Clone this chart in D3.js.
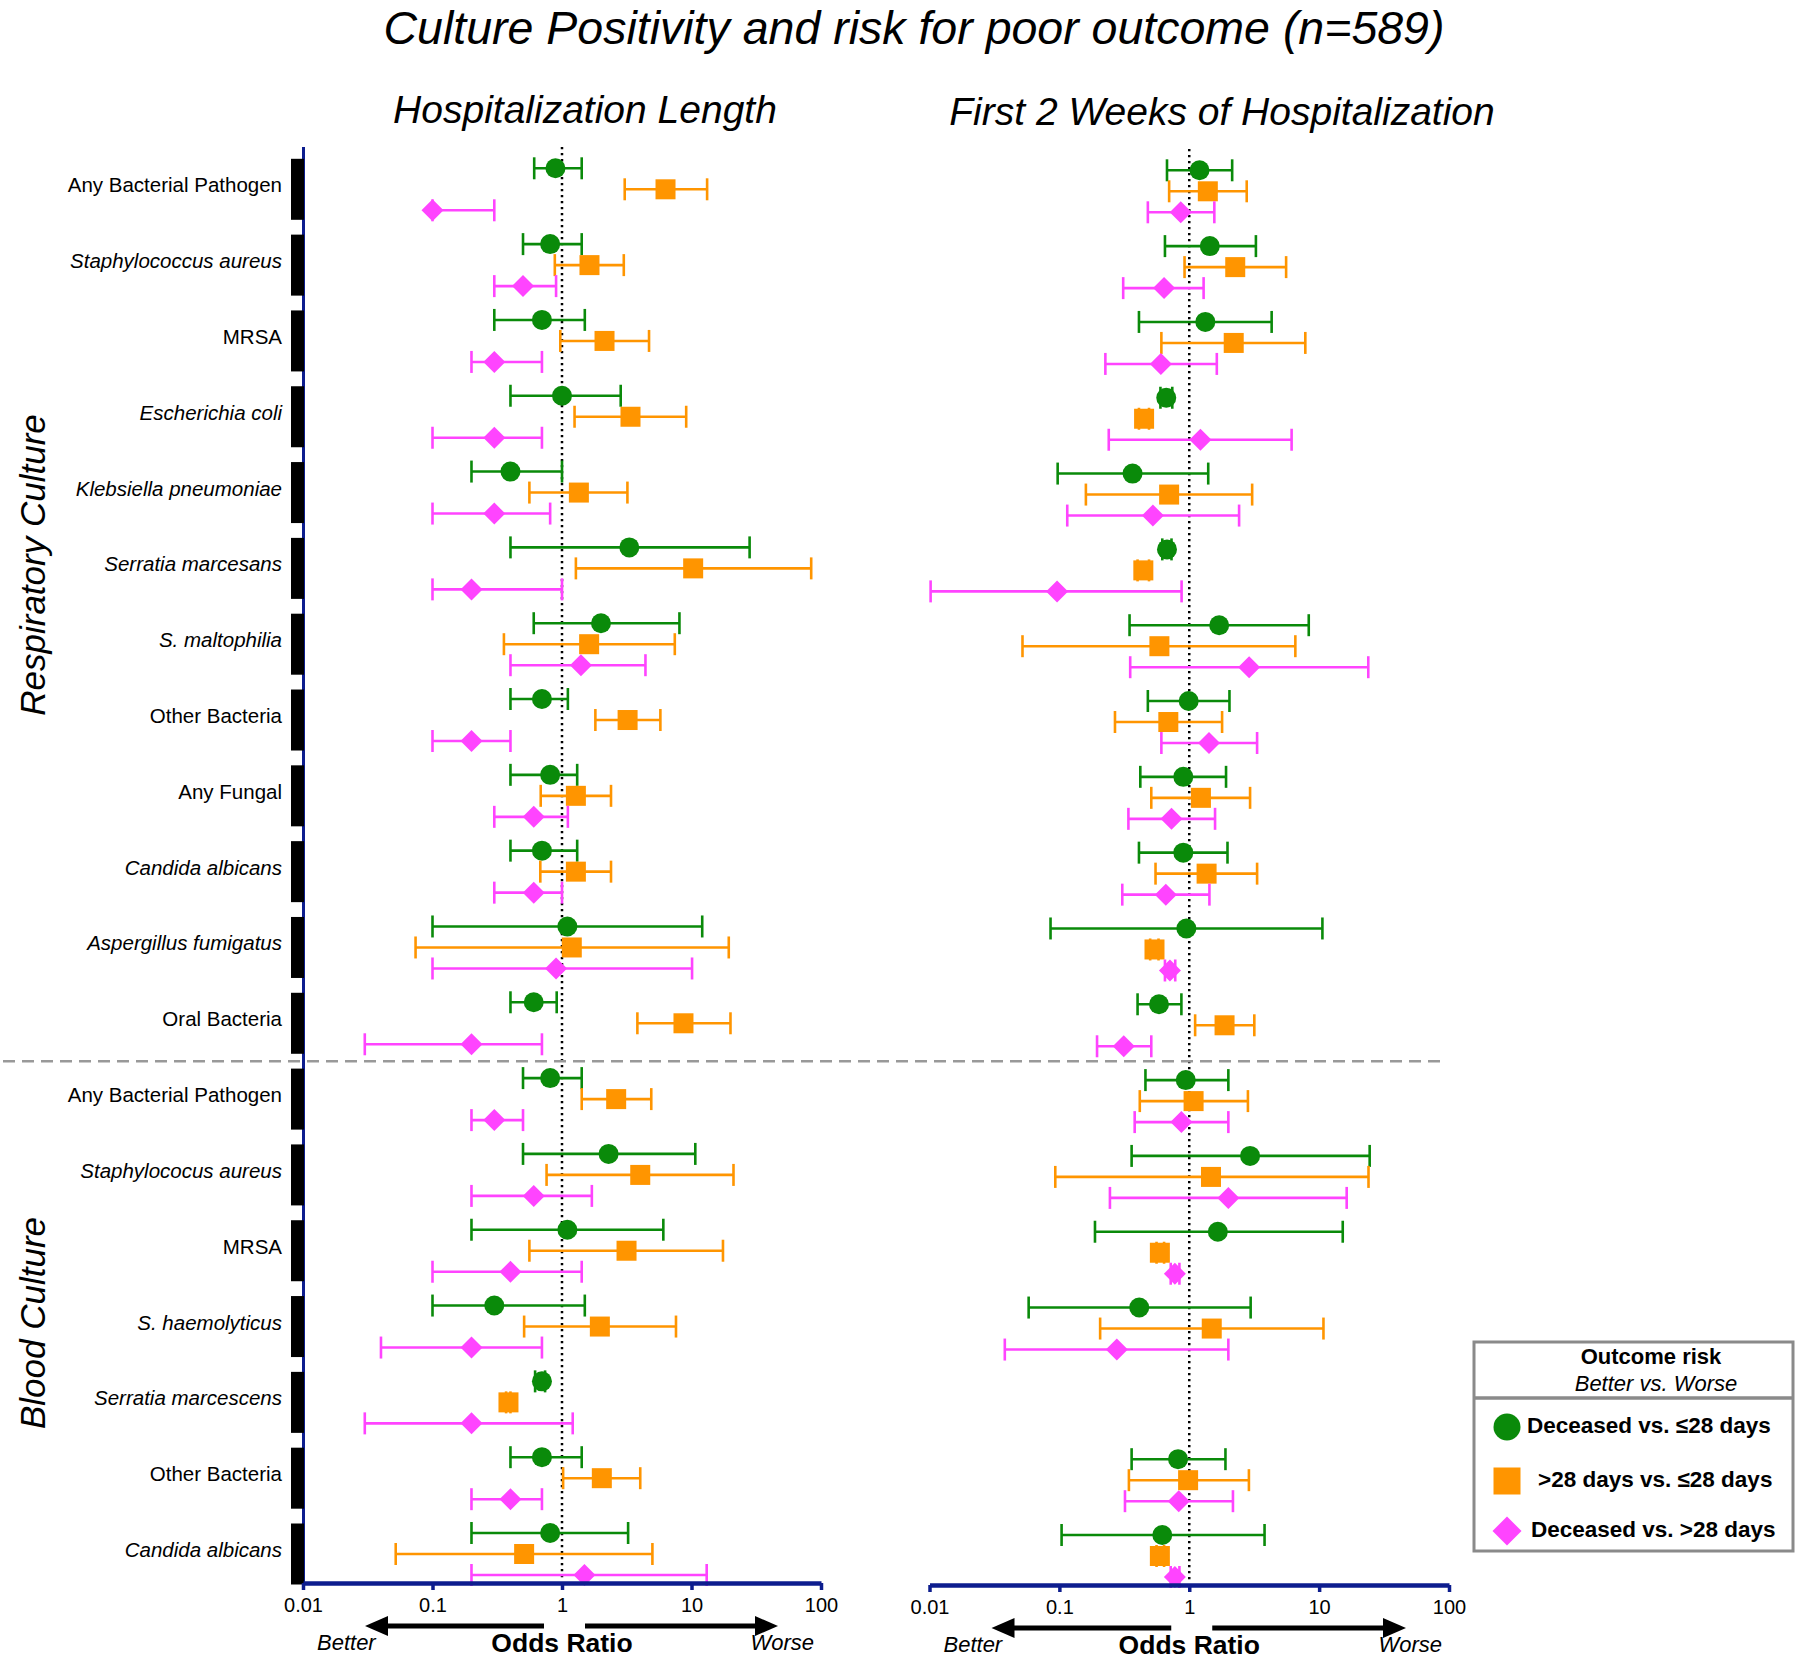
<!DOCTYPE html>
<html><head><meta charset="utf-8">
<script src="https://cdn.jsdelivr.net/npm/d3@7"></script>
<style>
body{margin:0;background:#fff}
svg{display:block}
text{font-family:"Liberation Sans",Arial,Helvetica,sans-serif;fill:#000}
</style>
</head><body>
<svg id="c" width="1800" height="1660"></svg>
<script>
// ---------------- DATA ----------------
const chartTitle = "Culture Positivity and risk for poor outcome (n=589)";
const panelTitles = ["Hospitalization Length", "First 2 Weeks of Hospitalization"];
const categories = [
  "Any Bacterial Pathogen", "Staphylococcus aureus", "MRSA", "Escherichia coli",
  "Klebsiella pneumoniae", "Serratia marcesans", "S. maltophilia", "Other Bacteria",
  "Any Fungal", "Candida albicans", "Aspergillus fumigatus", "Oral Bacteria",
  "Any Bacterial Pathogen", "Staphylococus aureus", "MRSA", "S. haemolyticus",
  "Serratia marcescens", "Other Bacteria", "Candida albicans"
];
const italicCategory = [false, true, false, true, true, true, true, false, false, true, true, false,
                        false, true, false, true, true, false, true];
const sectionNames = ["Respiratory Culture", "Blood Culture"];
const sectionSizes = [12, 7];
const seriesNames = ["Deceased vs. \u226428 days", ">28 days vs. \u226428 days", "Deceased vs. >28 days"];
const tickValues = [0.01, 0.1, 1, 10, 100];
const tickLabels = ["0.01", "0.1", "1", "10", "100"];
const axisTitle = "Odds Ratio";
const legendTitle = "Outcome risk";
const legendSubtitle = "Better vs. Worse";

// [odds ratio, lower CI, upper CI] per category
const hospDeceasedVsLe28 = [
  [0.89,0.61,1.42],[0.81,0.50,1.42],[0.70,0.30,1.50],[1.00,0.40,2.84],[0.40,0.20,1.00],
  [3.31,0.40,28.1],[2.00,0.605,8.07],[0.70,0.40,1.11],[0.81,0.40,1.31],[0.70,0.40,1.31],
  [1.10,0.10,12.1],[0.605,0.40,0.91],
  [0.81,0.50,1.42],[2.29,0.50,10.7],[1.10,0.20,6.06],[0.30,0.10,1.50],[0.70,0.62,0.74],
  [0.70,0.40,1.42],[0.81,0.20,3.24]
];
const hospGt28VsLe28 = [
  [6.3,3.05,13.2],[1.63,0.88,3.0],[2.13,0.97,4.7],[3.38,1.25,9.1],[1.35,0.56,3.2],
  [10.3,1.28,84],[1.62,0.356,7.43],[3.21,1.81,5.75],[1.28,0.685,2.39],[1.28,0.68,2.39],
  [1.19,0.074,19.4],[8.67,3.82,20],
  [2.62,1.42,4.89],[4.02,0.76,21.1],[3.15,0.56,17.5],[1.96,0.51,7.59],[0.386,0.37,0.40],
  [2.03,1.02,4.02],[0.51,0.052,4.99]
];
const hospDeceasedVsGt28 = [
  [0.10,0.10,0.30],[0.50,0.30,0.90],[0.30,0.20,0.70],[0.30,0.10,0.70],[0.30,0.10,0.81],
  [0.20,0.10,1.00],[1.40,0.40,4.41],[0.20,0.10,0.40],[0.605,0.30,1.11],[0.605,0.30,1.00],
  [0.90,0.10,10.1],[0.20,0.030,0.70],
  [0.30,0.20,0.50],[0.605,0.20,1.70],[0.40,0.10,1.42],[0.20,0.040,0.70],[0.20,0.030,1.21],
  [0.40,0.20,0.70],[1.49,0.20,13.1]
];
const weeksDeceasedVsLe28 = [
  [1.20,0.674,2.14],[1.44,0.65,3.26],[1.33,0.41,4.31],[0.665,0.60,0.74],[0.366,0.097,1.40],
  [0.674,0.62,0.73],[1.70,0.347,8.32],[0.99,0.48,2.04],[0.90,0.42,1.92],[0.90,0.41,1.97],
  [0.95,0.0855,10.6],[0.585,0.40,0.87],
  [0.94,0.46,2.0],[2.94,0.36,24.5],[1.66,0.188,15.2],[0.412,0.058,2.97],null,
  [0.82,0.36,1.90],[0.62,0.104,3.8]
];
const weeksGt28VsLe28 = [
  [1.39,0.70,2.77],[2.26,0.92,5.57],[2.20,0.61,7.83],[0.449,0.41,0.49],[0.70,0.16,3.05],
  [0.443,0.40,0.49],[0.589,0.052,6.56],[0.69,0.268,1.79],[1.23,0.51,2.94],[1.36,0.55,3.33],
  [0.54,0.50,0.58],[1.87,1.11,3.17],
  [1.08,0.416,2.83],[1.47,0.093,24],[0.594,0.56,0.64],[1.49,0.206,10.8],null,
  [0.98,0.343,2.88],[0.594,0.56,0.64]
];
const weeksDeceasedVsGt28 = [
  [0.86,0.48,1.56],[0.64,0.31,1.29],[0.605,0.226,1.63],[1.22,0.24,6.14],[0.525,0.115,2.42],
  [0.096,0.0102,0.873],[2.89,0.351,23.9],[1.42,0.61,3.33],[0.73,0.34,1.58],[0.66,0.305,1.43],
  [0.71,0.65,0.78],[0.313,0.195,0.51],
  [0.87,0.38,2.0],[2.0,0.245,16.3],[0.775,0.72,0.84],[0.277,0.038,2.0],null,
  [0.83,0.32,2.17],[0.775,0.72,0.84]
];

// ---------------- STYLE ----------------
const COLORS = ["#0a8a0a", "#ff9500", "#ff44ff"];
const SHAPES = ["circle", "square", "diamond"];
const NAVY = "#0d1d8e";
const FONT = '"Liberation Sans",Arial,Helvetica,sans-serif';

const svg = d3.select("#c");
const nCat = categories.length;
const y = d3.scalePoint().domain(d3.range(nCat)).range([189.3, 1554]);
const sub = d3.scalePoint().domain([0, 1, 2]).range([-21, 21]);
const plotTop = 147;

function drawMarker(g, shape, cx, cy, size, color) {
  if (shape === "circle") {
    g.append("circle").attr("cx", cx).attr("cy", cy).attr("r", size / 2).attr("fill", color);
  } else if (shape === "square") {
    g.append("rect").attr("x", cx - size / 2).attr("y", cy - size / 2)
      .attr("width", size).attr("height", size).attr("fill", color);
  } else {
    const h = size / 2 + 1;
    g.append("path").attr("d", `M${cx},${cy - h}L${cx + h},${cy}L${cx},${cy + h}L${cx - h},${cy}Z`)
      .attr("fill", color);
  }
}

// Title
svg.append("text").attr("x", 914).attr("y", 44).attr("text-anchor", "middle")
  .attr("font-size", 46.5).attr("font-style", "italic").text(chartTitle);

function drawPanel(cfg) {
  const g = svg.append("g").attr("transform", `translate(0,${cfg.dy})`);
  const x = d3.scaleLog().domain([0.01, 100]).range(cfg.range);
  const axisY = 1583;

  g.append("text").attr("x", cfg.titleX).attr("y", 123).attr("text-anchor", "middle")
    .attr("font-size", 39).attr("font-style", "italic").text(cfg.title);

  if (cfg.yAxis) {
    g.append("line").attr("x1", cfg.range[0] + 0.5).attr("x2", cfg.range[0] + 0.5)
      .attr("y1", plotTop).attr("y2", axisY).attr("stroke", NAVY).attr("stroke-width", 3);
    g.selectAll(".bar").data(d3.range(nCat)).join("rect")
      .attr("x", cfg.range[0] - 12).attr("width", 13)
      .attr("y", i => y(i) - 30.5).attr("height", 61).attr("fill", "#000");
    g.selectAll(".cat").data(d3.range(nCat)).join("text")
      .attr("x", cfg.range[0] - 21).attr("y", i => y(i) + 3)
      .attr("text-anchor", "end").attr("font-size", 20.5)
      .attr("font-style", i => italicCategory[i] ? "italic" : "normal")
      .text(i => categories[i]);
  }

  // reference line at OR = 1
  g.append("line").attr("x1", x(1)).attr("x2", x(1)).attr("y1", plotTop).attr("y2", axisY - 2)
    .attr("stroke", "#000").attr("stroke-width", 2.5).attr("stroke-dasharray", "2.2,3.8");

  cfg.series.forEach((arr, s) => {
    const sg = g.append("g");
    arr.forEach((d, i) => {
      if (!d) return;
      const cy = y(i) + sub(s);
      const x0 = x(d[1]), x1 = x(d[2]);
      sg.append("line").attr("x1", x0).attr("x2", x1).attr("y1", cy).attr("y2", cy)
        .attr("stroke", COLORS[s]).attr("stroke-width", 2.6);
      [x0, x1].forEach(cx => sg.append("line").attr("x1", cx).attr("x2", cx)
        .attr("y1", cy - 11).attr("y2", cy + 11)
        .attr("stroke", COLORS[s]).attr("stroke-width", 2.6));
      drawMarker(sg, SHAPES[s], x(d[0]), cy, 20, COLORS[s]);
    });
  });

  // x axis
  const axis = d3.axisBottom(x).tickValues(tickValues)
    .tickFormat((v, i) => tickLabels[i]).tickSize(7).tickSizeOuter(0).tickPadding(8);
  const ag = g.append("g").attr("transform", `translate(0,${axisY})`).call(axis);
  ag.select(".domain").attr("stroke", NAVY).attr("stroke-width", 4.5);
  ag.selectAll(".tick line").attr("stroke", NAVY).attr("stroke-width", 3.5);
  ag.selectAll(".tick text").attr("font-size", 20).attr("font-family", FONT)
    .attr("fill", "#000").attr("dy", null).attr("y", 29);

  // arrows
  const ay = axisY + 43;
  const lTip = cfg.range[0] + 62, lEnd = x(1) - 18;
  const rTip = cfg.range[1] - 43, rStart = x(1) + 23;
  g.append("line").attr("x1", lEnd).attr("x2", lTip + 18).attr("y1", ay).attr("y2", ay)
    .attr("stroke", "#000").attr("stroke-width", 5);
  g.append("path").attr("d", `M${lTip},${ay}L${lTip + 23},${ay - 10}L${lTip + 23},${ay + 10}Z`).attr("fill", "#000");
  g.append("line").attr("x1", rStart).attr("x2", rTip - 18).attr("y1", ay).attr("y2", ay)
    .attr("stroke", "#000").attr("stroke-width", 5);
  g.append("path").attr("d", `M${rTip},${ay}L${rTip - 23},${ay - 10}L${rTip - 23},${ay + 10}Z`).attr("fill", "#000");

  g.append("text").attr("x", cfg.range[0] + 14).attr("y", axisY + 67)
    .attr("font-size", 22).attr("font-style", "italic").text("Better");
  g.append("text").attr("x", cfg.range[1] - 7).attr("y", axisY + 67).attr("text-anchor", "end")
    .attr("font-size", 22).attr("font-style", "italic").text("Worse");
  g.append("text").attr("x", x(1)).attr("y", axisY + 69).attr("text-anchor", "middle")
    .attr("font-size", 26.5).attr("font-weight", "bold").text(axisTitle);
}

drawPanel({ range: [303, 821], dy: 0, yAxis: true, title: panelTitles[0], titleX: 585,
  series: [hospDeceasedVsLe28, hospGt28VsLe28, hospDeceasedVsGt28] });
drawPanel({ range: [929.5, 1449], dy: 2, yAxis: false, title: panelTitles[1], titleX: 1222,
  series: [weeksDeceasedVsLe28, weeksGt28VsLe28, weeksDeceasedVsGt28] });

// section divider
const divY = (y(sectionSizes[0] - 1) + y(sectionSizes[0])) / 2;
svg.append("line").attr("x1", 3).attr("x2", 1447).attr("y1", divY).attr("y2", divY)
  .attr("stroke", "#999").attr("stroke-width", 2.5).attr("stroke-dasharray", "12,7");

// section labels (placed as in the original figure)
const sectionLabelY = [565, 1323];
sectionNames.forEach((name, k) => {
  svg.append("text").attr("transform", `translate(45,${sectionLabelY[k]}) rotate(-90)`)
    .attr("text-anchor", "middle").attr("font-size", 35).attr("font-style", "italic").text(name);
});

// legend
const lg = svg.append("g");
lg.append("rect").attr("x", 1474).attr("y", 1342).attr("width", 319).attr("height", 209)
  .attr("fill", "#fff").attr("stroke", "#8a8a8a").attr("stroke-width", 3);
lg.append("line").attr("x1", 1474).attr("x2", 1793).attr("y1", 1398).attr("y2", 1398)
  .attr("stroke", "#8a8a8a").attr("stroke-width", 3.5);
lg.append("text").attr("x", 1651).attr("y", 1364).attr("text-anchor", "middle")
  .attr("font-size", 22).attr("font-weight", "bold").text(legendTitle);
lg.append("text").attr("x", 1656).attr("y", 1391).attr("text-anchor", "middle")
  .attr("font-size", 22).attr("font-style", "italic").text(legendSubtitle);
const legRowsY = [1427, 1481, 1531];
const legTextX = [1527, 1538, 1531];
seriesNames.forEach((name, s) => {
  drawMarker(lg, SHAPES[s], 1507, legRowsY[s], 27, COLORS[s]);
  lg.append("text").attr("x", legTextX[s]).attr("y", legRowsY[s] + 6)
    .attr("font-size", 22.5).attr("font-weight", "bold").text(name);
});
</script>
</body></html>
